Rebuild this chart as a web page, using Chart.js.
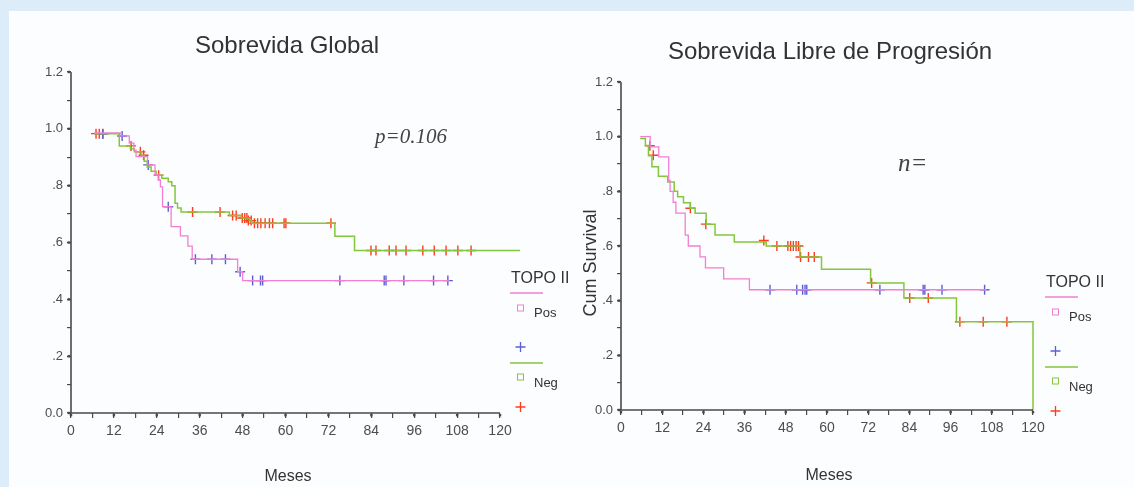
<!DOCTYPE html>
<html>
<head>
<meta charset="utf-8">
<script src="https://cdn.jsdelivr.net/npm/chart.js@4.4.1/dist/chart.umd.min.js"></script>
<style>
  html, body { margin:0; padding:0; }
  body { width:1134px; height:487px; background:#dcecf8; position:relative; overflow:hidden; }
  #paper { position:absolute; left:9px; top:11px; width:1125px; height:476px; background:#fcfdfe; }
  canvas { position:absolute; top:0; }
  #cL { left:0; }
  #cR { left:567px; }
</style>
</head>
<body>
<div id="paper"></div>
<canvas id="cL" width="600" height="487"></canvas>
<canvas id="cR" width="567" height="487"></canvas>
<script>
// ---------- tick labels ----------
const xTickValues = [0, 12, 24, 36, 48, 60, 72, 84, 96, 108, 120];
const xTickText   = ['0','12','24','36','48','60','72','84','96','108','120'];
const yTickValues = [0, 0.2, 0.4, 0.6, 0.8, 1.0, 1.2];
const yTickText   = ['0.0', '.2', '.4', '.6', '.8', '1.0', '1.2'];

// ---------- Sobrevida Global (OS) ----------
const osPosTimes = [6.5, 14.0, 16.3, 17.6, 18.2, 21.4, 23.5, 24.4, 25.0, 25.6, 28.0, 30.6, 32.7, 33.9, 46.6, 48.0, 105.8];
const osPosSurv  = [0.986, 0.975, 0.95, 0.925, 0.902, 0.873, 0.84, 0.82, 0.796, 0.726, 0.656, 0.623, 0.587, 0.541, 0.497, 0.466, 0.466];
const osPosCensTimes = [8.9, 14.3, 21.6, 27.2, 34.8, 39.4, 43.2, 47.3, 50.8, 53.0, 53.6, 75.2, 87.6, 88.1, 93.1, 101.4, 105.4];
const osPosCensSurv  = [0.982, 0.975, 0.873, 0.726, 0.541, 0.541, 0.541, 0.497, 0.466, 0.466, 0.466, 0.466, 0.466, 0.466, 0.466, 0.466, 0.466];

const osNegTimes = [6.5, 13.5, 16.6, 17.7, 19.6, 20.5, 21.3, 22.4, 23.8, 25.4, 27.2, 28.2, 29.1, 29.8, 30.8, 44.3, 47.6, 49.9, 50.5, 73.8, 79.3, 125.6];
const osNegSurv  = [0.983, 0.94, 0.93, 0.919, 0.907, 0.886, 0.866, 0.851, 0.837, 0.826, 0.814, 0.8, 0.738, 0.721, 0.707, 0.695, 0.686, 0.677, 0.668, 0.622, 0.572, 0.572];
const osNegCensTimes = [7.0, 7.9, 8.9, 16.8, 19.4, 20.3, 24.5, 34.0, 41.7, 45.2, 46.2, 47.9, 48.6, 49.2, 49.6, 50.4, 51.3, 52.2, 53.1, 54.3, 55.5, 56.4, 59.6, 60.1, 72.7, 83.9, 85.3, 89.0, 90.9, 93.7, 98.4, 101.6, 104.9, 108.2, 111.9];
const osNegCensSurv  = [0.983, 0.983, 0.983, 0.94, 0.919, 0.907, 0.837, 0.707, 0.707, 0.695, 0.695, 0.686, 0.686, 0.686, 0.677, 0.677, 0.668, 0.668, 0.668, 0.668, 0.668, 0.668, 0.668, 0.668, 0.668, 0.572, 0.572, 0.572, 0.572, 0.572, 0.572, 0.572, 0.572, 0.572, 0.572];

// ---------- Sobrevida Libre de Progresión (PFS) ----------
const pfsPosTimes = [5.6, 8.5, 11.0, 13.9, 14.3, 15.2, 16.0, 18.7, 19.6, 23.0, 24.6, 29.9, 37.4, 106.5];
const pfsPosSurv  = [1.0, 0.963, 0.926, 0.84, 0.80, 0.76, 0.72, 0.64, 0.60, 0.56, 0.52, 0.48, 0.44, 0.44];
const pfsPosCensTimes = [43.4, 51.2, 52.9, 53.6, 54.1, 75.4, 88.0, 88.5, 93.5, 105.9];
const pfsPosCensSurv  = [0.44, 0.44, 0.44, 0.44, 0.44, 0.44, 0.44, 0.44, 0.44, 0.44];

const pfsNegTimes = [5.6, 7.1, 8.0, 9.0, 10.9, 13.6, 15.5, 16.5, 18.2, 20.2, 21.6, 24.8, 27.4, 33.0, 42.3, 52.1, 58.4, 72.7, 82.4, 97.7, 120, 120];
const pfsNegSurv  = [0.993, 0.968, 0.93, 0.89, 0.855, 0.834, 0.80, 0.78, 0.758, 0.738, 0.72, 0.68, 0.64, 0.615, 0.60, 0.56, 0.515, 0.465, 0.41, 0.323, 0.323, 0.0];
const pfsNegCensTimes = [8.4, 9.4, 20.2, 24.7, 41.6, 45.4, 48.6, 49.4, 50.2, 51.0, 51.7, 52.3, 54.6, 56.3, 73.0, 84.1, 89.5, 98.7, 105.5, 112.4];
const pfsNegCensSurv  = [0.967, 0.932, 0.738, 0.68, 0.62, 0.60, 0.60, 0.60, 0.60, 0.60, 0.60, 0.56, 0.56, 0.56, 0.465, 0.41, 0.41, 0.323, 0.323, 0.323];

// ---------- styles ----------
const PINK = '#f27fd2', GREEN = '#84c63c', BLUE = '#5b5fd6', RED = '#ff3b1f';
const AXIS = '#4a4a4a', TEXT = '#333333', TICK = '#4d4d4d';

Chart.defaults.font.family = '"Liberation Sans", Arial, sans-serif';

function pts(t, s) { return t.map((v, i) => ({ x: v, y: s[i] })); }

const decor = {
  id: 'decor',
  afterDraw(chart, args, o) {
    const ctx = chart.ctx, xs = chart.scales.x, ys = chart.scales.y;
    ctx.save();
    // axis lines
    ctx.strokeStyle = AXIS; ctx.lineWidth = 1.6;
    ctx.beginPath();
    ctx.moveTo(xs.getPixelForValue(0), ys.getPixelForValue(1.2));
    ctx.lineTo(xs.getPixelForValue(0), ys.getPixelForValue(0));
    ctx.lineTo(xs.getPixelForValue(120), ys.getPixelForValue(0));
    ctx.stroke();
    // dots at labelled ticks
    ctx.fillStyle = AXIS;
    xTickValues.forEach(v => ctx.fillRect(xs.getPixelForValue(v) - 1.2, ys.getPixelForValue(0) + 1, 2.4, 2.4));
    yTickValues.forEach(v => ctx.fillRect(xs.getPixelForValue(0) - 3.4, ys.getPixelForValue(v) - 1.2, 2.4, 2.4));
    // title
    ctx.fillStyle = TEXT;
    ctx.textAlign = 'center'; ctx.textBaseline = 'alphabetic';
    ctx.font = '24px "Liberation Sans", Arial, sans-serif';
    ctx.fillText(o.title.text, o.title.x, o.title.y);
    // annotation
    ctx.font = 'italic ' + o.note.size + 'px "Liberation Serif", "Times New Roman", serif';
    ctx.textAlign = 'left';
    ctx.fillStyle = '#444';
    ctx.fillText(o.note.text, o.note.x, o.note.y);
    // x title
    ctx.fillStyle = TEXT;
    ctx.font = '16px "Liberation Sans", Arial, sans-serif';
    ctx.textAlign = 'center';
    ctx.fillText('Meses', o.xTitle.x, o.xTitle.y);
    // y title
    if (o.yTitle) {
      ctx.save();
      ctx.translate(o.yTitle.x, o.yTitle.y);
      ctx.rotate(-Math.PI / 2);
      ctx.font = '18px "Liberation Sans", Arial, sans-serif';
      ctx.textAlign = 'center';
      ctx.fillText(o.yTitle.text, 0, 0);
      ctx.restore();
    }
    // legend
    const L = o.legend;
    ctx.textAlign = 'left';
    ctx.font = '16px "Liberation Sans", Arial, sans-serif';
    ctx.fillText('TOPO II', L.x, L.y);
    ctx.font = '13px "Liberation Sans", Arial, sans-serif';
    ctx.lineWidth = 1.4;
    // Pos
    ctx.strokeStyle = PINK;
    ctx.beginPath(); ctx.moveTo(L.x - 1, L.y + 10); ctx.lineTo(L.x + 32, L.y + 10); ctx.stroke();
    ctx.lineWidth = 1;
    ctx.strokeRect(L.x + 6.5, L.y + 22, 6, 6);
    ctx.fillStyle = TEXT;
    ctx.fillText('Pos', L.x + 23, L.y + 34);
    ctx.strokeStyle = BLUE; ctx.lineWidth = 1.3;
    ctx.beginPath();
    ctx.moveTo(L.x + 4.5, L.y + 64); ctx.lineTo(L.x + 14.5, L.y + 64);
    ctx.moveTo(L.x + 9.5, L.y + 59); ctx.lineTo(L.x + 9.5, L.y + 69);
    ctx.stroke();
    // Neg
    ctx.strokeStyle = GREEN; ctx.lineWidth = 1.6;
    ctx.beginPath(); ctx.moveTo(L.x - 1, L.y + 80); ctx.lineTo(L.x + 32, L.y + 80); ctx.stroke();
    ctx.lineWidth = 1;
    ctx.strokeRect(L.x + 6.5, L.y + 91, 6, 6);
    ctx.fillStyle = TEXT;
    ctx.fillText('Neg', L.x + 23, L.y + 104);
    ctx.strokeStyle = RED; ctx.lineWidth = 1.3;
    ctx.beginPath();
    ctx.moveTo(L.x + 4.5, L.y + 124); ctx.lineTo(L.x + 14.5, L.y + 124);
    ctx.moveTo(L.x + 9.5, L.y + 119); ctx.lineTo(L.x + 9.5, L.y + 129);
    ctx.stroke();
    ctx.restore();
  }
};

function makeChart(id, d, layout, deco) {
  return new Chart(document.getElementById(id), {
    type: 'scatter',
    data: {
      datasets: [
        { data: pts(d.posT, d.posS), showLine: true, stepped: 'before', borderColor: PINK, borderWidth: 1.3, pointRadius: 0, fill: false },
        { data: pts(d.negT, d.negS), showLine: true, stepped: 'before', borderColor: GREEN, borderWidth: 1.5, pointRadius: 0, fill: false },
        { data: pts(d.posCT, d.posCS), showLine: false, pointStyle: 'cross', pointRadius: 5, borderColor: BLUE, borderWidth: 1.4, backgroundColor: BLUE },
        { data: pts(d.negCT, d.negCS), showLine: false, pointStyle: 'cross', pointRadius: 5, borderColor: RED, borderWidth: 1.4, backgroundColor: RED }
      ]
    },
    options: {
      responsive: false,
      animation: false,
      events: [],
      clip: false,
      layout: { padding: layout.padding },
      plugins: { legend: { display: false }, tooltip: { enabled: false }, decor: deco },
      scales: {
        x: {
          type: 'linear', min: 0, max: layout.xMax,
          afterFit: s => { s.height = 30; },
          border: { display: false },
          grid: {
            drawOnChartArea: false, drawTicks: true, tickLength: 5,
            color: c => (c.tick && c.tick.value > 120) ? 'rgba(0,0,0,0)' : AXIS,
            lineWidth: 1.2
          },
          ticks: {
            stepSize: 6, autoSkip: false, maxRotation: 0, padding: 5,
            color: TICK, font: { size: 14 },
            callback: v => { const i = xTickValues.indexOf(v); return i >= 0 ? xTickText[i] : ''; }
          }
        },
        y: {
          min: 0, max: 1.2,
          afterFit: s => { s.width = layout.yWidth; },
          border: { display: false },
          grid: { drawOnChartArea: false, drawTicks: true, tickLength: 4, color: AXIS, lineWidth: 1.2 },
          ticks: {
            stepSize: 0.1, autoSkip: false, padding: 4,
            color: TICK, font: { size: 13 },
            callback: v => { const i = yTickValues.findIndex(t => Math.abs(t - v) < 1e-6); return i >= 0 ? yTickText[i] : ''; }
          }
        }
      }
    },
    plugins: [decor]
  });
}

makeChart('cL',
  { posT: osPosTimes, posS: osPosSurv, negT: osNegTimes, negS: osNegSurv,
    posCT: osPosCensTimes, posCS: osPosCensSurv, negCT: osNegCensTimes, negCS: osNegCensSurv },
  { padding: { left: 11, right: 78.5, top: 72, bottom: 44 }, xMax: 126, yWidth: 60 },
  { title: { text: 'Sobrevida Global', x: 287, y: 53 },
    note: { text: 'p=0.106', x: 375, y: 143, size: 21 },
    xTitle: { x: 288, y: 481 },
    legend: { x: 511, y: 283 } }
);

makeChart('cR',
  { posT: pfsPosTimes, posS: pfsPosSurv, negT: pfsNegTimes, negS: pfsNegSurv,
    posCT: pfsPosCensTimes, posCS: pfsPosCensSurv, negCT: pfsNegCensTimes, negCS: pfsNegCensSurv },
  { padding: { left: 9, right: 101, top: 82, bottom: 47 }, xMax: 120, yWidth: 45 },
  { title: { text: 'Sobrevida Libre de Progresión', x: 263, y: 59 },
    note: { text: 'n=', x: 331, y: 171, size: 25 },
    xTitle: { x: 262, y: 480 },
    yTitle: { text: 'Cum Survival', x: 29, y: 263 },
    legend: { x: 479, y: 287 } }
);
</script>
</body>
</html>
